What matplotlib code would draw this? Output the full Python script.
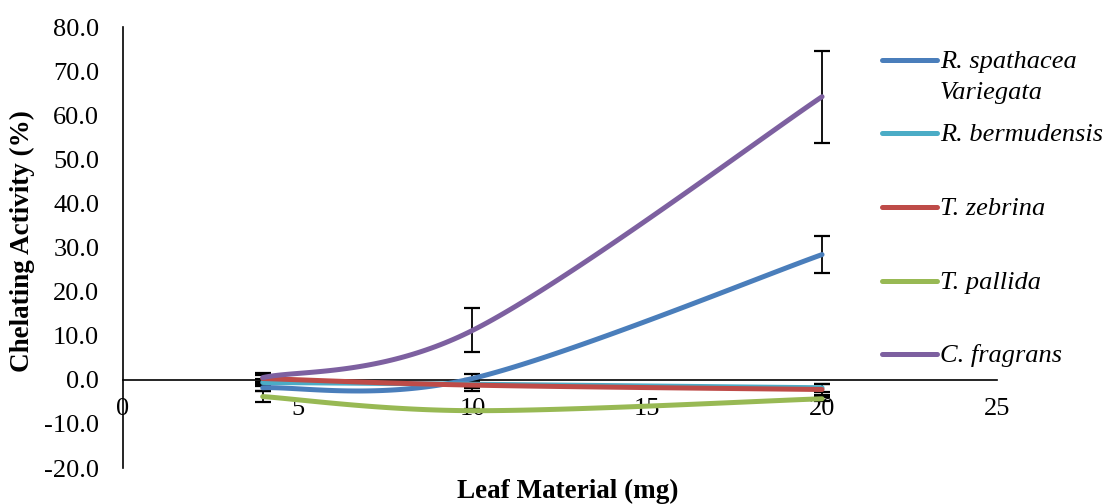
import numpy as np
import matplotlib.pyplot as plt
from matplotlib.lines import Line2D

plt.rcParams['font.family'] = ['Liberation Serif', 'DejaVu Serif']

leaf_mg = [4, 10, 20]
species = ['R. spathacea\nVariegata', 'R. bermudensis', 'T. zebrina', 'T. pallida', 'C. fragrans']
colors = ['#4A7EBB', '#4BACC6', '#BE4B48', '#98B954', '#7D60A0']

r_spathacea = [-1.8, 0.3, 28.4]
r_bermudensis = [-0.6, -1.0, -1.8]
t_zebrina = [0.3, -1.2, -2.2]
t_pallida = [-3.8, -7.0, -4.3]
c_fragrans = [0.5, 11.2, 64.2]

err_spathacea = [0.8, 1.0, 4.1]
err_bermudensis = [0.7, 0.8, 0.9]
err_zebrina = [0.8, 1.3, 1.2]
err_pallida = [1.2, 0.4, 0.4]
err_fragrans = [1.0, 5.0, 10.4]

series = [r_spathacea, r_bermudensis, t_zebrina, t_pallida, c_fragrans]
errors = [err_spathacea, err_bermudensis, err_zebrina, err_pallida, err_fragrans]


def smooth(x, y, n=60):
    # excel-like smoothed line (catmull-rom bezier)
    p = np.column_stack([x, y]).astype(float)
    pts = np.vstack([p[0], p, p[-1]])
    out = []
    t = np.linspace(0, 1, n)[:, None]
    for i in range(1, len(pts) - 2):
        p0, p1 = pts[i], pts[i + 1]
        c1 = p0 + (pts[i + 1] - pts[i - 1]) / 6
        c2 = p1 - (pts[i + 2] - pts[i]) / 6
        seg = ((1 - t) ** 3) * p0 + 3 * ((1 - t) ** 2) * t * c1 + 3 * (1 - t) * t ** 2 * c2 + t ** 3 * p1
        out.append(seg)
    out = np.vstack(out)
    return out[:, 0], out[:, 1]


fig = plt.figure(figsize=(11.07, 5.04), dpi=100)
ax = fig.add_axes([0.111, 0.0714, 0.7895, 0.875])

for vals, err, c in zip(series, errors, colors):
    sx, sy = smooth(leaf_mg, vals)
    ax.plot(sx, sy, color=c, lw=3.6, solid_capstyle='round', zorder=3)
    ax.errorbar(leaf_mg, vals, yerr=err, fmt='none', ecolor='black', elinewidth=1.3,
                capsize=6, capthick=1.6, zorder=2)

ax.set_xlim(0, 25)
ax.set_ylim(-20, 80)
ax.set_xticks(np.arange(0, 26, 5))
ax.set_yticks(np.arange(-20, 81, 10))
ax.set_yticklabels(['%.1f' % v for v in np.arange(-20, 81, 10)])

for s in ['top', 'right']:
    ax.spines[s].set_visible(False)
ax.spines['bottom'].set_position(('data', 0))
ax.spines['left'].set_position(('data', 0))
ax.spines['bottom'].set_linewidth(1.2)
ax.spines['left'].set_linewidth(1.2)
ax.tick_params(axis='x', length=0, pad=13, labelsize=19)
ax.tick_params(axis='y', length=0, pad=17, labelsize=19)

ax.set_xlabel('Leaf Material (mg)', fontsize=19.5, fontweight='bold')
ax.set_ylabel('Chelating Activity (%)', fontsize=19.5, fontweight='bold')
ax.xaxis.set_label_coords(0.509, -0.024)
ax.yaxis.set_label_coords(-0.1, 0.515)

# legend drawn by hand to follow the excel layout
W, H = 1107, 504
ys = [60, 133, 207, 281, 354]
for lab, c, y in zip(species, colors, ys):
    fig.add_artist(Line2D([882 / W, 937 / W], [1 - y / H, 1 - y / H], color=c, lw=3.6,
                          solid_capstyle='round', transform=fig.transFigure))
    for k, line in enumerate(lab.split('\n')):
        fig.text(940 / W, 1 - (y + 8 + 31 * k) / H, line, fontsize=19, style='italic',
                 va='baseline', ha='left')

fig.savefig('out.png', dpi=100)
